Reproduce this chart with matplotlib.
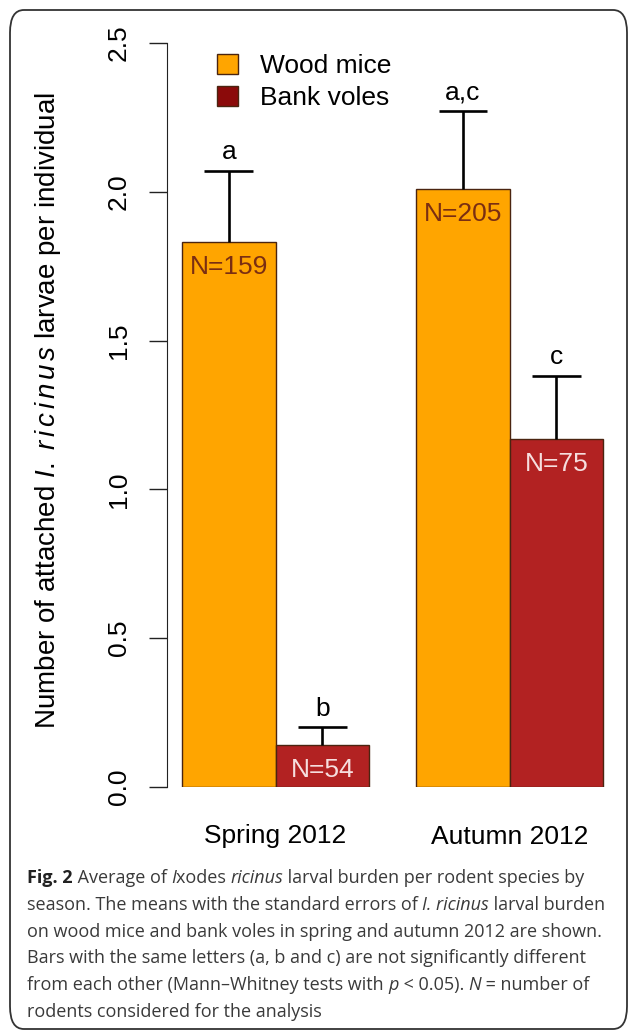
import matplotlib
matplotlib.use("Agg")
import matplotlib.pyplot as plt
from matplotlib.patches import Patch, FancyBboxPatch

# data
seasons = ["Spring 2012", "Autumn 2012"]
species = ["Wood mice", "Bank voles"]
wood_mice_mean = [1.83, 2.01]
wood_mice_se = [0.24, 0.26]
bank_voles_mean = [0.14, 1.17]
bank_voles_se = [0.06, 0.21]
wood_mice_n = ["N=159", "N=205"]
bank_voles_n = ["N=54", "N=75"]
wood_mice_letter = ["a", "a,c"]
bank_voles_letter = ["b", "c"]
y_ticks = [0.0, 0.5, 1.0, 1.5, 2.0, 2.5]

W, H = 630, 1031
plt.rcParams['font.family'] = ['Liberation Sans', 'DejaVu Sans']
plt.rcParams['mathtext.fontset'] = 'custom'
plt.rcParams['mathtext.rm'] = 'Liberation Sans'
plt.rcParams['mathtext.it'] = 'Liberation Sans:italic'

fig = plt.figure(figsize=(W / 100, H / 100), dpi=100)
ax = fig.add_axes([167 / W, 1 - 787 / H, (622 - 167) / W, (787 - 43) / H])

orange = "#ffa500"
red = "#b22222"
edge = "#4a2410"
fs = 19

group_left = [0.0, 2.5]
x_wood = [g + 0.5 for g in group_left]
x_vole = [g + 1.5 for g in group_left]

ax.bar(x_wood, wood_mice_mean, width=1.0, color=orange, edgecolor=edge, linewidth=1)
ax.bar(x_vole, bank_voles_mean, width=1.0, color=red, edgecolor=edge, linewidth=1)

cap = 0.26
for xs, means, ses, ns, letters, ncol in [
        (x_wood, wood_mice_mean, wood_mice_se, wood_mice_n, wood_mice_letter, "#7a2e12"),
        (x_vole, bank_voles_mean, bank_voles_se, bank_voles_n, bank_voles_letter, "#f6dede")]:
    for x, m, s, n, l in zip(xs, means, ses, ns, letters):
        ax.vlines(x, m, m + s, color="black", linewidth=1.9)
        ax.hlines(m + s, x - cap, x + cap, color="black", linewidth=1.9)
        ax.annotate(l, (x, m + s), xytext=(0, 5), textcoords="offset points",
                    ha="center", va="bottom", fontsize=fs)
        ax.annotate(n, (x, m), xytext=(0, -18), textcoords="offset points",
                    ha="center", va="center", fontsize=fs, color=ncol)

ax.set_xlim(-0.16, 4.7)
ax.set_ylim(0, 2.5)
for side in ["top", "right", "bottom"]:
    ax.spines[side].set_visible(False)
ax.spines["left"].set_bounds(0, 2.5)
ax.spines["left"].set_color("#222222")
ax.set_yticks(y_ticks)
ax.set_yticklabels([f"{v:.1f}" for v in y_ticks], rotation=90, va="center", fontsize=fs)
ax.tick_params(axis="y", length=13, width=1, pad=13, color="#222222")
ax.set_xticks([g + 1.0 for g in group_left])
ax.set_xticklabels(seasons, fontsize=fs)
ax.tick_params(axis="x", length=0, pad=27)

fig.text(48 / W, 1 - 410 / H,
         r"Number of attached $\mathit{I.\ r\,i\,c\,i\,n\,u\,s}$ larvae per individual",
         rotation=90, ha="center", va="center", fontsize=20)

handles = [Patch(facecolor=orange, edgecolor=edge, label=species[0]),
           Patch(facecolor="#8b0a0a", edgecolor=edge, label=species[1])]
ax.legend(handles=handles, loc="upper left", frameon=False, fontsize=fs,
          bbox_to_anchor=(206 / W, 1 - 43 / H), bbox_transform=fig.transFigure,
          handlelength=0.8, handleheight=0.8, handletextpad=0.85,
          labelspacing=0.3, borderaxespad=0)

# rounded frame
fig.patches.append(FancyBboxPatch((10 / W, 2 / H), (627 - 10) / W, (1021 - 2) / H,
                                  boxstyle="round,pad=0,rounding_size=0.022",
                                  transform=fig.transFigure, fill=False,
                                  edgecolor="#333333", linewidth=1.3))

# caption with mixed styles
renderer = fig.canvas.get_renderer()
cap_fs = 13
base = dict(family=["Open Sans", "DejaVu Sans"], fontsize=cap_fs, color="#3a3a3a")


def width(s, props):
    t = fig.text(0, 0, "|" + s + "|", **props)
    t2 = fig.text(0, 0, "||", **props)
    w = t.get_window_extent(renderer).width - t2.get_window_extent(renderer).width
    t.remove()
    t2.remove()
    return w


caption = [
    [("Fig. 2", "b"), (" Average of ", ""), ("I", "i"), ("xodes ", ""), ("ricinus", "i"),
     (" larval burden per rodent species by", "")],
    [("season. The means with the standard errors of ", ""), ("I. ricinus", "i"),
     (" larval burden", "")],
    [("on wood mice and bank voles in spring and autumn 2012 are shown.", "")],
    [("Bars with the same letters (a, b and c) are not significantly different", "")],
    [("from each other (Mann\u2013Whitney tests with ", ""), ("p", "i"), (" < 0.05). ", ""),
     ("N", "i"), (" = number of", "")],
    [("rodents considered for the analysis", "")],
]
line_y = [878, 905, 932, 958, 985, 1012]
for runs, yy in zip(caption, line_y):
    x = 27
    for s, st in runs:
        props = dict(base)
        if st == "b":
            props["fontweight"] = "bold"
            props["color"] = "#222222"
        if st == "i":
            props["fontstyle"] = "italic"
        fig.text(x / W, 1 - yy / H, s, ha="left", va="center", **props)
        x += width(s, props)

fig.savefig("out.png", dpi=100)
